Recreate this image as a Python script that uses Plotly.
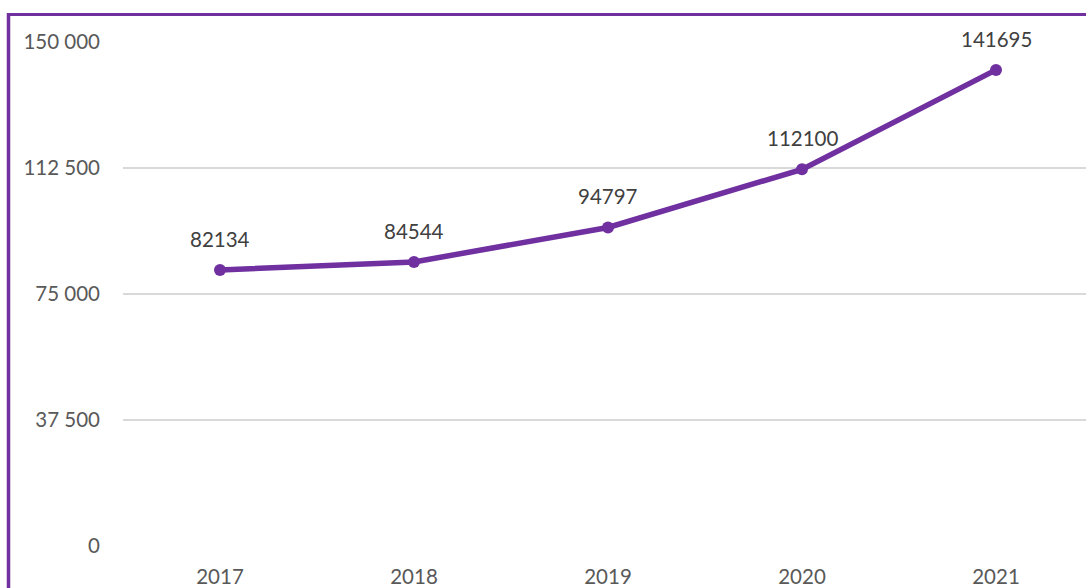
import plotly.graph_objects as go

years = ["2017", "2018", "2019", "2020", "2021"]
values = [82134, 84544, 94797, 112100, 141695]
y_tickvals = [0, 37500, 75000, 112500, 150000]
y_ticktext = ["0", "37 500", "75 000", "112 500", "150 000"]

PURPLE = "#7030A0"
W, H = 1086, 588
L, R, T, B = 123, 0, 42, 42
pw, ph = W - L - R, H - T - B
FONT = "Lato, Open Sans, sans-serif"

fig = go.Figure()
fig.add_trace(go.Scatter(
    x=years, y=values, mode="lines+markers",
    line=dict(color=PURPLE, width=5.5),
    marker=dict(color=PURPLE, size=12),
    hoverinfo="skip", showlegend=False,
))
for i, v in enumerate(values):
    fig.add_annotation(x=i, y=v, text=str(v), showarrow=False, yshift=31,
                       font=dict(family=FONT, size=20.5, color="#404040"))

def px_to_paper_x(px):
    return (px - L) / pw

def px_to_paper_y(py):
    return (H - B - py) / ph

# frame lines (top and left)
fig.add_shape(type="line", xref="paper", yref="paper",
              x0=px_to_paper_x(7), x1=px_to_paper_x(W + 5),
              y0=px_to_paper_y(14.5), y1=px_to_paper_y(14.5),
              line=dict(color=PURPLE, width=3))
fig.add_shape(type="line", xref="paper", yref="paper",
              x0=px_to_paper_x(8.5), x1=px_to_paper_x(8.5),
              y0=px_to_paper_y(13), y1=px_to_paper_y(H + 5),
              line=dict(color=PURPLE, width=3.5))

fig.update_layout(
    width=W, height=H,
    margin=dict(l=L, r=R, t=T, b=B),
    paper_bgcolor="white", plot_bgcolor="white",
    font=dict(family=FONT, size=20.5, color="#595959"),
    xaxis=dict(
        type="category", range=[-0.5, 4.5 - 7 / 194],
        showgrid=False, showline=False, zeroline=False, ticks="",
        ticklabelstandoff=16,
        tickfont=dict(family=FONT, size=20.5, color="#595959"),
    ),
    yaxis=dict(
        range=[0, 150000], tickvals=y_tickvals, ticktext=y_ticktext,
        showgrid=True, gridcolor="#D9D9D9", gridwidth=2,
        zeroline=False, showline=False, ticks="",
        ticklabelstandoff=22,
        tickfont=dict(family=FONT, size=20.5, color="#595959"),
    ),
)

fig.write_html("out.html", config={"displayModeBar": False},
               post_script="document.body.style.margin='0';document.body.style.overflow='hidden';")
